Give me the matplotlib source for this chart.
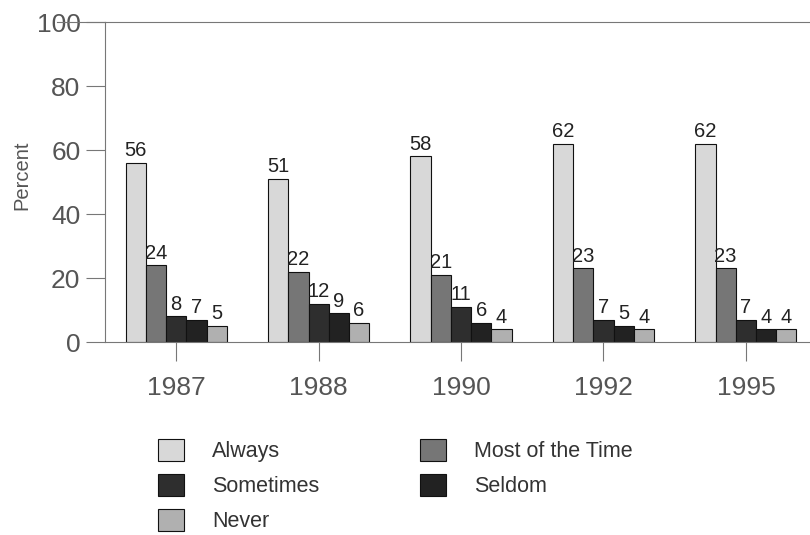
import matplotlib
matplotlib.use("Agg")
import matplotlib.pyplot as plt
import numpy as np

plt.rcParams["font.family"] = ["Liberation Sans", "DejaVu Sans"]

# ── Data ───────────────────────────────────────────────────────────────────
years = ["1987", "1988", "1990", "1992", "1995"]
always = [56, 51, 58, 62, 62]
most_of_time = [24, 22, 21, 23, 23]
sometimes = [8, 12, 11, 7, 7]
seldom = [7, 9, 6, 5, 4]
never = [5, 6, 4, 4, 4]

series = [
    ("Always", always, "#d8d8d8"),
    ("Most of the Time", most_of_time, "#767676"),
    ("Sometimes", sometimes, "#2e2e2e"),
    ("Seldom", seldom, "#222222"),
    ("Never", never, "#b0b0b0"),
]

txt_gray = "#555555"
line_gray = "#777777"

fig = plt.figure(figsize=(8.1, 5.35), dpi=100)
ax = fig.add_axes([0.1296, 0.3607, 0.8704, 0.598])

x = np.arange(len(years))
w = 0.142
handles = {}
for k, (name, vals, col) in enumerate(series):
    pos = x + (k - 2) * w
    bars = ax.bar(pos, vals, width=w, color=col, edgecolor="#111111",
                  linewidth=0.8, label=name)
    handles[name] = bars
    for xp, v in zip(pos, vals):
        ax.text(xp, v + 0.8, str(v), ha="center", va="bottom",
                fontsize=14.5, color="#222222")

ax.set_xlim(-0.5, 4.45)
ax.set_ylim(0, 100)
ax.set_yticks([0, 20, 40, 60, 80, 100])
ax.set_xticks(x)
ax.set_xticklabels(years)
ax.tick_params(axis="y", direction="out", length=13.7, width=0.8,
               color=line_gray, labelsize=19, labelcolor=txt_gray, pad=4)
ax.tick_params(axis="x", direction="out", length=13.7, width=0.8,
               color=line_gray, labelsize=19, labelcolor=txt_gray, pad=11)
ax.set_ylabel("Percent", fontsize=14.5, color=txt_gray)
ax.yaxis.set_label_coords(-0.105, 0.52)

for side in ("left", "top", "bottom"):
    ax.spines[side].set_color(line_gray)
    ax.spines[side].set_linewidth(0.8)
ax.spines["right"].set_visible(False)

# top rule extends left toward the "100" label
ax.plot([-0.068, 0], [1, 1], transform=ax.transAxes, color=line_gray,
        lw=0.8, clip_on=False)

order = ["Always", "Sometimes", "Never", "Most of the Time", "Seldom"]
leg = fig.legend([handles[n] for n in order], order, ncol=2,
                 loc="upper left", bbox_to_anchor=(0.195, 0.18),
                 frameon=False, fontsize=15.5, handlelength=1.2,
                 handleheight=1.2, handletextpad=1.3, columnspacing=4.7,
                 labelspacing=0.54, borderpad=0, borderaxespad=0,
                 labelcolor="#333333")

fig.savefig("out.png", dpi=100)
